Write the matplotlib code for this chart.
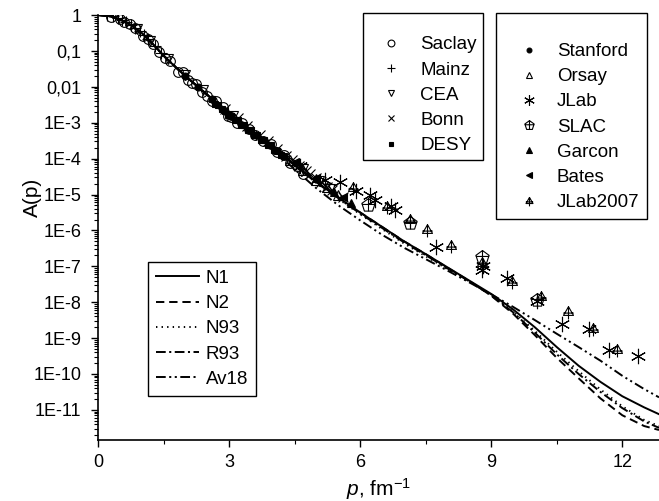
import numpy as np
import matplotlib
matplotlib.use("Agg")
from matplotlib import pyplot as plt
from matplotlib.path import Path
from matplotlib.ticker import FixedLocator, LogLocator, MultipleLocator, NullFormatter

plt.rcParams['font.family'] = ['Liberation Sans', 'DejaVu Sans']
plt.rcParams['mathtext.fontset'] = 'custom'
plt.rcParams['mathtext.rm'] = 'Liberation Sans'
plt.rcParams['mathtext.it'] = 'Liberation Sans:italic'
plt.rcParams['lines.scale_dashes'] = False

# ---- model curves, values given as log10 A(p) ----
p_model = [0, 0.25, 0.5, 0.75, 1, 1.25, 1.5, 1.75, 2, 2.25, 2.5, 2.75, 3, 3.5, 4,
           4.5, 5, 5.5, 6, 6.5, 7, 7.5, 8, 8.5, 9, 9.5, 10, 10.5, 11, 11.5, 12, 12.5, 12.84]
head = [0, -0.03, -0.12, -0.28, -0.5, -0.8, -1.13, -1.42, -1.7, -1.96, -2.22, -2.5, -2.75, -3.2, -3.68]
n1_lg = head + [-4.18, -4.65, -5.08, -5.5, -5.9, -6.3, -6.66, -7.03, -7.4, -7.77,
                -8.2, -8.7, -9.25, -9.77, -10.22, -10.62, -10.93, -11.12]
n2_lg = head + [-4.18, -4.65, -5.08, -5.5, -5.9, -6.3, -6.66, -7.04, -7.41, -7.82,
                -8.32, -8.92, -9.55, -10.12, -10.68, -11.15, -11.45, -11.56]
n93_lg = head + [-4.2, -4.68, -5.12, -5.55, -5.96, -6.36, -6.72, -7.08, -7.43, -7.8,
                 -8.26, -8.8, -9.38, -9.92, -10.43, -10.9, -11.28, -11.45]
r93_lg = head + [-4.19, -4.67, -5.1, -5.53, -5.93, -6.33, -6.69, -7.06, -7.42, -7.81,
                 -8.28, -8.85, -9.45, -10.0, -10.5, -10.95, -11.32, -11.5]
av18_lg = head[:-2] + [-3.22, -3.73] + [-4.3, -4.83, -5.3, -5.72, -6.12, -6.48, -6.8, -7.12, -7.45, -7.78,
                                         -8.13, -8.5, -8.88, -9.25, -9.63, -10.05, -10.42, -10.65]

# ---- experimental points (p, log10 A) ----
saclay_p = [0.3, 0.5, 0.6, 0.73, 0.85, 1.03, 1.15, 1.26, 1.4, 1.53, 1.65, 1.83, 1.95, 2.05, 2.15,
            2.25, 2.38, 2.5, 2.61, 2.7, 2.85, 2.97, 3.05, 3.18, 3.3, 3.45, 3.6, 3.78, 3.95, 4.1,
            4.25, 4.39, 4.55, 4.7]
saclay_lg = [-0.05, -0.1, -0.2, -0.25, -0.35, -0.58, -0.66, -0.8, -1.04, -1.2, -1.27, -1.58, -1.6, -1.8, -1.9,
             -1.93, -2.15, -2.25, -2.4, -2.4, -2.55, -2.8, -2.84, -3.0, -3.0, -3.18, -3.35, -3.52, -3.6, -3.82,
             -3.9, -4.12, -4.2, -4.42]
mainz_p = [0.21, 0.35, 0.45, 0.55, 0.65, 0.75, 0.85, 0.95, 1.05, 1.15, 1.3, 1.45]
mainz_lg = [0.0, -0.04, -0.08, -0.15, -0.2, -0.28, -0.37, -0.45, -0.56, -0.68, -0.86, -1.05]
cea_p = [0.9, 1.2, 1.6, 2.0, 2.4, 3.1, 4.7, 5.05, 5.31]
cea_lg = [-0.4, -0.72, -1.22, -1.68, -2.08, -2.82, -4.3, -4.62, -4.85]
bonn_p = [2.9, 3.2, 3.4, 3.7, 3.9, 4.1, 4.3, 4.45, 4.6, 4.75, 4.85, 5.0, 5.1, 5.25, 5.35, 5.6]
bonn_lg = [-2.62, -2.88, -3.08, -3.35, -3.52, -3.72, -3.92, -4.05, -4.2, -4.35, -4.42, -4.55, -4.65, -4.8,
           -4.88, -5.08]
desy_p = [2.6, 2.68, 2.75, 2.83, 2.9, 2.98, 3.05, 3.13, 3.2, 3.28, 3.35, 3.43, 3.5, 3.58, 3.65, 3.73,
          3.8, 3.88, 3.95, 4.03, 4.1, 4.18, 4.25]
desy_lg = [-2.33, -2.47, -2.5, -2.63, -2.66, -2.78, -2.8, -2.92, -2.93, -3.05, -3.07, -3.19, -3.2, -3.33,
           -3.34, -3.47, -3.49, -3.61, -3.63, -3.76, -3.78, -3.91, -3.93]
stanford_p = [2.0, 2.3, 2.6, 2.9]
stanford_lg = [-1.7, -2.01, -2.33, -2.66]
orsay_p = [4.4, 4.7, 5.0, 5.24, 5.5]
orsay_lg = [-4.05, -4.32, -4.6, -4.8, -5.0]
jlab_p = [4.62, 5.2, 5.54, 5.9, 6.22, 6.34, 6.7, 6.8, 7.73, 8.78, 8.82, 9.35, 10.04, 10.63, 11.24, 11.69, 12.35]
jlab_lg = [-4.2, -4.6, -4.65, -4.9, -5.01, -5.15, -5.33, -5.43, -6.45, -7.1, -6.98, -7.34, -7.96, -8.61, -8.75, -9.33, -9.49]
slac_p = [6.18, 7.15, 8.78, 10.04]
slac_lg = [-5.29, -5.78, -6.73, -7.94]
garcon_p = [5.0, 5.4, 5.8]
garcon_lg = [-4.55, -4.92, -5.25]
bates_p = [4.5, 5.0, 5.6]
bates_lg = [-4.1, -4.55, -5.08]
jlab07_p = [5.84, 6.61, 7.15, 7.52, 8.09, 8.78, 9.48, 10.13, 10.75, 11.34, 11.87]
jlab07_lg = [-4.82, -5.35, -5.7, -6.0, -6.43, -6.92, -7.43, -7.85, -8.26, -8.76, -9.33]

ytick_vals = [1, 1e-1, 1e-2, 1e-3, 1e-4, 1e-5, 1e-6, 1e-7, 1e-8, 1e-9, 1e-10, 1e-11]
ytick_labels = ['1', '0,1', '0,01', '1E-3', '1E-4', '1E-5', '1E-6', '1E-7', '1E-8', '1E-9', '1E-10', '1E-11']
xtick_vals = [0, 3, 6, 9, 12]

# custom markers
pent = Path.unit_regular_polygon(5)
slac_marker = Path.make_compound_path(
    pent, Path([[-0.95, 0.15], [0.95, 0.15]]), Path([[0, 1], [0, -0.81]]))
tri = Path.unit_regular_polygon(3)
jl07_marker = Path.make_compound_path(
    tri, Path([[-0.9, -0.1], [0.9, -0.1]]), Path([[0, 1], [0, -1.2]]))

fig = plt.figure(figsize=(6.59, 5.01), dpi=100)
ax = fig.add_axes([0.1487, 0.1218, 0.8513, 0.8482])


def L(v):
    return 10 ** np.array(v)


k = dict(color='black', linestyle='none', mec='black', mew=0.8)
h1 = []
h1.append(ax.plot(saclay_p, L(saclay_lg), marker='o', ms=7, mfc='none', label='Saclay', **k)[0])
h1.append(ax.plot(mainz_p, L(mainz_lg), marker='+', ms=8, label='Mainz', **k)[0])
h1.append(ax.plot(cea_p, L(cea_lg), marker='v', ms=7, mfc='none', label='CEA', **k)[0])
h1.append(ax.plot(bonn_p, L(bonn_lg), marker='x', ms=7, label='Bonn', **k)[0])
h1.append(ax.plot(desy_p, L(desy_lg), marker='s', ms=5, mfc='black', label='DESY', **k)[0])
h2 = []
h2.append(ax.plot(stanford_p, L(stanford_lg), marker='o', ms=5, mfc='black', label='Stanford', **k)[0])
h2.append(ax.plot(orsay_p, L(orsay_lg), marker='^', ms=7, mfc='none', label='Orsay', **k)[0])
h2.append(ax.plot(jlab_p, L(jlab_lg), marker=(6, 2, 0), ms=11, label='JLab', **k)[0])
h2.append(ax.plot(slac_p, L(slac_lg), marker=slac_marker, ms=10, mfc='none', label='SLAC', **k)[0])
h2.append(ax.plot(garcon_p, L(garcon_lg), marker='^', ms=6, mfc='black', label='Garcon', **k)[0])
h2.append(ax.plot(bates_p, L(bates_lg), marker='<', ms=6, mfc='black', label='Bates', **k)[0])
h2.append(ax.plot(jlab07_p, L(jlab07_lg), marker=jl07_marker, ms=10, mfc='none', label='JLab2007', **k)[0])

h3 = []
h3.append(ax.plot(p_model, L(n1_lg), color='black', lw=1.4, label='N1')[0])
h3.append(ax.plot(p_model, L(n2_lg), color='black', lw=1.4, dashes=(6, 3.5), label='N2')[0])
h3.append(ax.plot(p_model, L(n93_lg), color='black', lw=1.4, dashes=(1, 3), label='N93')[0])
h3.append(ax.plot(p_model, L(r93_lg), color='black', lw=1.4, dashes=(7, 2.5, 1.5, 2.5), label='R93')[0])
h3.append(ax.plot(p_model, L(av18_lg), color='black', lw=1.4,
                  dashes=(7, 2.5, 1.5, 2.5, 1.5, 2.5), label='Av18')[0])

ax.set_yscale('log')
ax.set_xlim(0, 12.84)
ax.set_ylim(1.45e-12, 1)
ax.yaxis.set_major_locator(FixedLocator(ytick_vals))
ax.set_yticklabels(ytick_labels)
ax.yaxis.set_minor_locator(LogLocator(base=10, subs=np.arange(2, 10), numticks=100))
ax.yaxis.set_minor_formatter(NullFormatter())
ax.set_xticks(xtick_vals)
ax.xaxis.set_minor_locator(MultipleLocator(1.5))
ax.tick_params(which='major', direction='out', length=5, width=1, labelsize=13, pad=5)
ax.tick_params(axis='y', which='major', pad=7)
ax.tick_params(which='minor', direction='out', length=3, width=0.8)
for s in ['top', 'right']:
    ax.spines[s].set_visible(False)
for s in ['left', 'bottom']:
    ax.spines[s].set_linewidth(1.2)

ax.set_ylabel('A(p)', fontsize=15)
ax.yaxis.set_label_coords(-0.10, 0.57)
ax.set_xlabel(r'$\mathit{p}$, fm$^{-1}$', fontsize=15, labelpad=4)

leg_kw = dict(frameon=True, fancybox=False, framealpha=1, edgecolor='black', fontsize=13.5,
              borderaxespad=0, labelspacing=0.43, loc='upper left')
lg1 = fig.legend(handles=h1, bbox_to_anchor=(363 / 659, 1 - 13 / 501), handlelength=2.37,
                 handletextpad=0.36, markerscale=0.7, borderpad=0.33,
                 title=' ', title_fontsize=6.5, **leg_kw)
lg2 = fig.legend(handles=h2, bbox_to_anchor=(496 / 659, 1 - 13 / 501), handlelength=2.67,
                 handletextpad=0.15, markerscale=0.7, borderpad=0.42,
                 title=' ', title_fontsize=10, **leg_kw)
lg3 = fig.legend(handles=h3, bbox_to_anchor=(148 / 659, 1 - 262 / 501), handlelength=2.3,
                 handletextpad=0.36, borderpad=0.42, **leg_kw)
for lg in (lg1, lg2, lg3):
    lg.get_frame().set_linewidth(1.0)

fig.savefig('out.png', dpi=100)
